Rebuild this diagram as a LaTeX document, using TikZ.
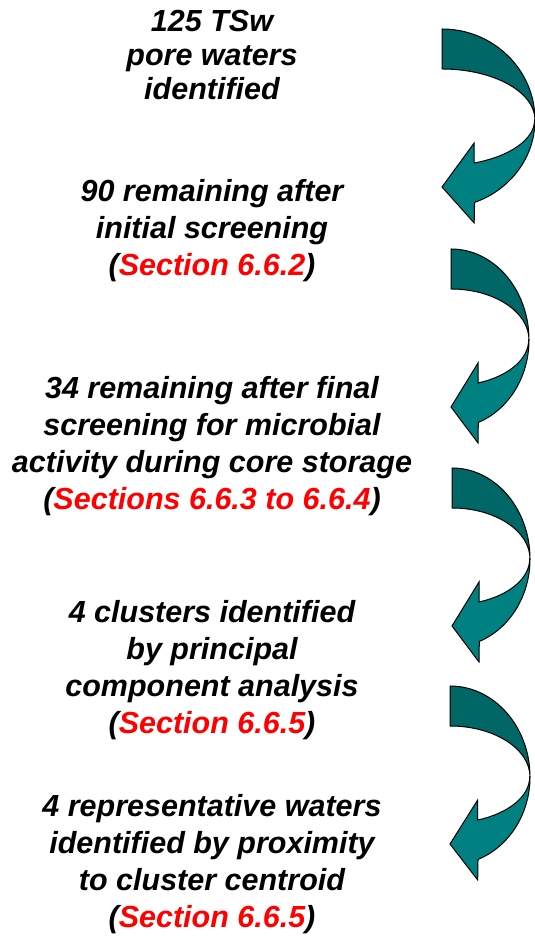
\documentclass[tikz,border=0pt]{standalone}
\usepackage{fontspec}
\setmainfont{Liberation Sans}
\usetikzlibrary{positioning}
\definecolor{flowteal}{RGB}{0,128,128}
\definecolor{flowtealdark}{RGB}{0,102,102}
\definecolor{flowred}{RGB}{255,0,0}
\newcommand{\redsec}[1]{\textcolor{flowred}{#1}}
\tikzset{
    stepbox/.style={align=center, font=\fontsize{30.5}{37}\selectfont\bfseries\itshape, inner sep=0pt, anchor=base},
    backband/.style={fill=flowtealdark, draw=black, line width=1pt, line join=round},
    frontband/.style={fill=flowteal, draw=black, line width=1pt, line join=miter}
}
\begin{document}
\begin{tikzpicture}[x=1pt, y=1pt]
    \useasboundingbox (0,0) rectangle (535,939);
    % Steps as text blocks (base = last line)
    \node[stepbox, font=\fontsize{30.5}{34}\selectfont\bfseries\itshape] (s1) at (212,839) {125 TSw\\pore waters\\identified};
    \node[stepbox] (s2) at (212,663) {90 remaining after\\initial screening\\(\redsec{Section 6.6.2})};
    \node[stepbox] (s3) at (212,429) {34 remaining after final\\screening for microbial\\activity during core storage\\(\redsec{Sections 6.6.3 to 6.6.4})};
    \node[stepbox] (s4) at (212,205) {4 clusters identified\\by principal\\component analysis\\(\redsec{Section 6.6.5})};
    \node[stepbox] (s5) at (212,11) {4 representative waters\\identified by proximity\\to cluster centroid\\(\redsec{Section 6.6.5})};

    % Curved arrows
    \begin{scope}[shift={(442,819)}, xscale=93/78]
        \filldraw[backband] (0,91) arc[start angle=90, end angle=0, x radius=78, y radius=91]
            arc[start angle=0, end angle=90, x radius=78, y radius=51] -- cycle;
        \filldraw[frontband] (78,0) arc[start angle=0, end angle=-69.5, x radius=78, y radius=88]
            -- (27,-103) -- (0,-67) -- (27,-23) -- (27,-43)
            arc[start angle=-69.5, end angle=0, x radius=78, y radius=46] -- cycle;
    \end{scope}
    \begin{scope}[shift={(451,599)}]
        \filldraw[backband] (0,91) arc[start angle=90, end angle=0, x radius=78, y radius=91]
            arc[start angle=0, end angle=90, x radius=78, y radius=51] -- cycle;
        \filldraw[frontband] (78,0) arc[start angle=0, end angle=-69.5, x radius=78, y radius=88]
            -- (27,-103) -- (0,-67) -- (27,-23) -- (27,-43)
            arc[start angle=-69.5, end angle=0, x radius=78, y radius=46] -- cycle;
    \end{scope}
    \begin{scope}[shift={(452,380)}]
        \filldraw[backband] (0,91) arc[start angle=90, end angle=0, x radius=78, y radius=91]
            arc[start angle=0, end angle=90, x radius=78, y radius=51] -- cycle;
        \filldraw[frontband] (78,0) arc[start angle=0, end angle=-69.5, x radius=78, y radius=88]
            -- (27,-103) -- (0,-67) -- (27,-23) -- (27,-43)
            arc[start angle=-69.5, end angle=0, x radius=78, y radius=46] -- cycle;
    \end{scope}
    \begin{scope}[shift={(450,162)}, xscale=80/78]
        \filldraw[backband] (0,91) arc[start angle=90, end angle=0, x radius=78, y radius=91]
            arc[start angle=0, end angle=90, x radius=78, y radius=51] -- cycle;
        \filldraw[frontband] (78,0) arc[start angle=0, end angle=-69.5, x radius=78, y radius=88]
            -- (27,-103) -- (0,-67) -- (27,-23) -- (27,-43)
            arc[start angle=-69.5, end angle=0, x radius=78, y radius=46] -- cycle;
    \end{scope}
\end{tikzpicture}
\end{document}
